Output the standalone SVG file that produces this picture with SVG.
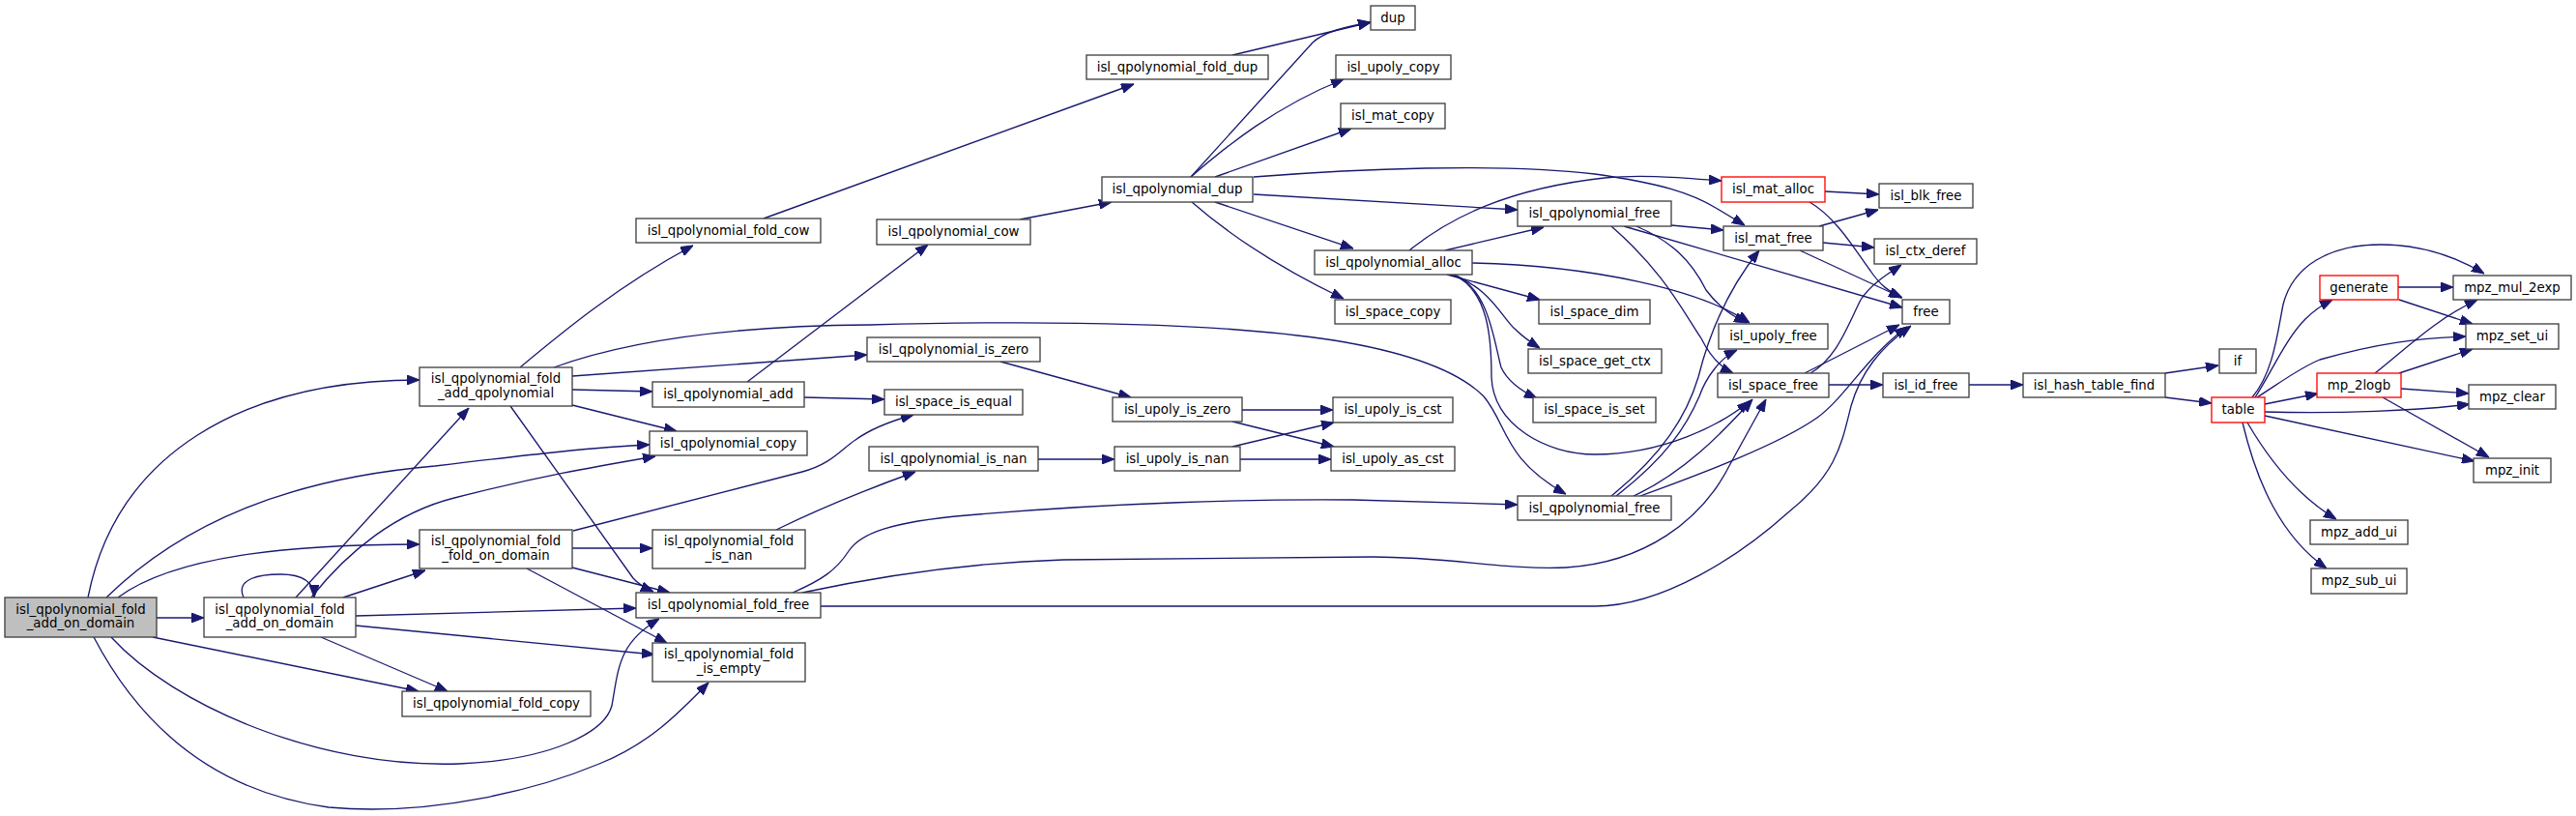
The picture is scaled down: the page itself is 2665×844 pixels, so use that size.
<svg xmlns="http://www.w3.org/2000/svg" width="2665" height="844" viewBox="0 0 2665 844">
<style>
.n rect{fill:#ffffff;stroke:#404040;stroke-width:1.33}
.n.r rect{stroke:#ff0000}
.n.m rect{fill:#bfbfbf}
.n text{font-family:"DejaVu Sans","Liberation Sans",sans-serif;font-size:13.33px;fill:#000000;text-anchor:middle}
#edges path{fill:none;stroke:#191970;stroke-width:1.33;marker-end:url(#ah)}
</style>
<defs>
<marker id="ah" viewBox="0 0 13 10" refX="13" refY="5" markerWidth="13" markerHeight="10" markerUnits="userSpaceOnUse" orient="auto">
<path d="M0,0 L13,5 L0,10 z" fill="#191970" stroke="#191970" stroke-width="1"/>
</marker>
</defs>
<rect width="2665" height="844" fill="#ffffff"/>
<g id="edges">
<path d="M162,639 L211,639"/>
<path d="M91,618 C120,470 250,393 434,393"/>
<path d="M110,618 C190,540 300,495 450,482 C550,470 620,462 672,460"/>
<path d="M122,618 C180,575 300,563 434,563"/>
<path d="M158,659 L433,715"/>
<path d="M115,659 C180,730 330,795 475,790 C570,786 625,758 633,730 C640,690 640,665 682,640"/>
<path d="M97,659 C150,760 230,820 340,835 C450,845 560,815 620,790 C670,770 700,740 733,706"/>
<path d="M252,618 C243,598 270,594 290,594 C310,594 325,600 325,618"/>
<path d="M306,618 L485,422"/>
<path d="M322,618 C360,570 410,530 470,515 C560,492 620,482 678,472"/>
<path d="M355,618 L440,590"/>
<path d="M368,637 L658,629"/>
<path d="M368,647 L677,677"/>
<path d="M332,659 L463,715"/>
<path d="M538,380 C580,345 640,295 717,254"/>
<path d="M573,380 C650,352 760,337 900,336 C1050,332 1250,332 1380,352 C1460,365 1510,385 1535,410 C1560,440 1555,475 1620,511"/>
<path d="M592,389 L897,367"/>
<path d="M592,403 L675,405"/>
<path d="M592,419 L700,446"/>
<path d="M528,420 L655,598 Q662,606 676,612"/>
<path d="M593,549 L830,488 C860,480 870,465 885,455 C900,444 920,436 945,429"/>
<path d="M592,567 L675,567"/>
<path d="M592,587 L693,613"/>
<path d="M545,588 L690,665"/>
<path d="M773,395 L960,253"/>
<path d="M832,411 L915,413"/>
<path d="M803,548 C850,525 900,505 947,488"/>
<path d="M820,613 C850,600 865,590 878,570 C890,552 920,540 1000,533 C1150,520 1300,516 1400,517 L1570,522"/>
<path d="M830,613 C900,598 1000,582 1100,579 L1420,576 C1500,576 1560,590 1620,587 C1700,582 1760,540 1790,480 L1827,413"/>
<path d="M849,627 L1650,627 C1720,627 1800,575 1850,530 C1900,490 1905,460 1915,420 C1925,385 1945,360 1977,337"/>
<path d="M790,226 L1173,87"/>
<path d="M1275,57 L1418,23"/>
<path d="M1055,227 L1150,209"/>
<path d="M1232,183 L1358,44 C1370,33 1390,28 1418,23"/>
<path d="M1232,183 C1270,150 1320,110 1390,82"/>
<path d="M1257,183 L1398,133"/>
<path d="M1297,183 C1400,175 1550,168 1650,180 C1720,190 1750,200 1775,215 L1805,233"/>
<path d="M1297,201 L1570,217"/>
<path d="M1257,209 L1400,257"/>
<path d="M1233,209 C1280,250 1340,285 1390,309"/>
<path d="M1458,259 C1500,225 1560,195 1660,184 C1700,180 1740,184 1781,187"/>
<path d="M1495,259 L1597,235"/>
<path d="M1523,272 C1650,275 1760,300 1810,334"/>
<path d="M1497,284 L1593,310"/>
<path d="M1500,284 C1540,295 1555,330 1567,340 C1575,348 1585,355 1593,360"/>
<path d="M1505,284 C1540,300 1545,350 1553,380 C1560,395 1575,405 1590,412"/>
<path d="M1503,284 C1540,300 1543,350 1543,390 C1545,440 1600,470 1650,470 C1720,470 1780,440 1810,415"/>
<path d="M1729,233 L1783,238"/>
<path d="M1693,234 C1730,250 1750,270 1765,300 C1780,320 1795,328 1807,334"/>
<path d="M1680,234 L1968,318"/>
<path d="M1667,234 C1720,280 1740,320 1760,350 C1770,370 1780,380 1793,386"/>
<path d="M1667,513 C1720,470 1745,430 1757,390 C1772,330 1795,290 1820,259"/>
<path d="M1672,513 C1725,472 1745,440 1758,410 C1765,390 1780,370 1797,362"/>
<path d="M1690,513 C1740,490 1780,450 1813,413"/>
<path d="M1697,513 C1760,490 1840,460 1880,432 C1910,410 1930,370 1973,338"/>
<path d="M1888,198 L1944,201"/>
<path d="M1872,209 C1900,225 1920,260 1935,280 C1945,295 1955,302 1967,308"/>
<path d="M1882,234 L1943,217"/>
<path d="M1886,251 L1939,256"/>
<path d="M1862,259 L1968,308"/>
<path d="M1867,386 L1965,336"/>
<path d="M1873,386 C1900,370 1910,340 1925,310 C1935,295 1950,285 1967,274"/>
<path d="M1892,398 L1948,398"/>
<path d="M2037,398 L2093,398"/>
<path d="M2240,386 L2295,378"/>
<path d="M2240,411 L2288,417"/>
<path d="M2330,411 C2352,385 2356,345 2362,315 C2372,275 2410,253 2463,253 C2510,253 2545,268 2570,283"/>
<path d="M2333,411 C2350,385 2365,350 2385,330 C2395,320 2405,314 2413,310"/>
<path d="M2335,411 C2360,395 2380,380 2400,372 C2460,355 2500,350 2551,348"/>
<path d="M2343,418 L2398,407"/>
<path d="M2343,426 C2420,428 2500,425 2555,418"/>
<path d="M2343,430 L2560,477"/>
<path d="M2325,437 C2350,480 2380,515 2417,537"/>
<path d="M2320,437 C2335,500 2360,555 2407,588"/>
<path d="M2481,297 L2538,297"/>
<path d="M2482,310 L2558,335"/>
<path d="M2457,386 C2490,360 2520,330 2563,310"/>
<path d="M2482,386 L2558,361"/>
<path d="M2484,402 L2554,407"/>
<path d="M2465,411 L2575,473"/>
<path d="M1035,374 L1170,411"/>
<path d="M1285,424 L1379,424"/>
<path d="M1275,436 L1380,462"/>
<path d="M1283,475 L1377,475"/>
<path d="M1275,462 L1380,437"/>
<path d="M1074,475 L1153,475"/>
</g>
<g id="n_main" class="n m"><rect x="5" y="618" width="157" height="41"/><text x="83.5" y="635">isl_qpolynomial_fold</text><text x="83.5" y="649">_add_on_domain</text></g>
<g id="n_add_on_domain" class="n"><rect x="211" y="618" width="157" height="41"/><text x="289.5" y="635">isl_qpolynomial_fold</text><text x="289.5" y="649">_add_on_domain</text></g>
<g id="n_add_qpolynomial" class="n"><rect x="434" y="380" width="158" height="40"/><text x="513" y="396">isl_qpolynomial_fold</text><text x="513" y="411">_add_qpolynomial</text></g>
<g id="n_qcopy" class="n"><rect x="672" y="446" width="163" height="25"/><text x="753.5" y="462.5">isl_qpolynomial_copy</text></g>
<g id="n_fold_on_domain" class="n"><rect x="434" y="548" width="158" height="40"/><text x="513" y="564">isl_qpolynomial_fold</text><text x="513" y="579">_fold_on_domain</text></g>
<g id="n_fold_free" class="n"><rect x="658" y="613" width="191" height="26"/><text x="753.5" y="630">isl_qpolynomial_fold_free</text></g>
<g id="n_fold_is_empty" class="n"><rect x="675" y="665" width="158" height="40"/><text x="754" y="681">isl_qpolynomial_fold</text><text x="754" y="696">_is_empty</text></g>
<g id="n_fold_copy" class="n"><rect x="416" y="715" width="195" height="26"/><text x="513.5" y="732">isl_qpolynomial_fold_copy</text></g>
<g id="n_fold_cow" class="n"><rect x="658" y="226" width="191" height="25"/><text x="753.5" y="242.5">isl_qpolynomial_fold_cow</text></g>
<g id="n_fold_dup" class="n"><rect x="1124" y="57" width="188" height="25"/><text x="1218" y="73.5">isl_qpolynomial_fold_dup</text></g>
<g id="n_qadd" class="n"><rect x="675" y="395" width="157" height="26"/><text x="753.5" y="412">isl_qpolynomial_add</text></g>
<g id="n_fold_is_nan" class="n"><rect x="675" y="548" width="158" height="40"/><text x="754" y="564">isl_qpolynomial_fold</text><text x="754" y="579">_is_nan</text></g>
<g id="n_qcow" class="n"><rect x="907" y="227" width="159" height="26"/><text x="986.5" y="244">isl_qpolynomial_cow</text></g>
<g id="n_qdup" class="n"><rect x="1140" y="183" width="156" height="26"/><text x="1218" y="200">isl_qpolynomial_dup</text></g>
<g id="n_qis_zero" class="n"><rect x="897" y="349" width="179" height="25"/><text x="986.5" y="365.5">isl_qpolynomial_is_zero</text></g>
<g id="n_space_is_equal" class="n"><rect x="915" y="403" width="143" height="26"/><text x="986.5" y="420">isl_space_is_equal</text></g>
<g id="n_qis_nan" class="n"><rect x="899" y="462" width="175" height="25"/><text x="986.5" y="478.5">isl_qpolynomial_is_nan</text></g>
<g id="n_upoly_is_zero" class="n"><rect x="1151" y="411" width="134" height="25"/><text x="1218" y="427.5">isl_upoly_is_zero</text></g>
<g id="n_upoly_is_nan" class="n"><rect x="1153" y="462" width="130" height="25"/><text x="1218" y="478.5">isl_upoly_is_nan</text></g>
<g id="n_dup" class="n"><rect x="1418" y="6" width="46" height="25"/><text x="1441" y="22.5">dup</text></g>
<g id="n_upoly_copy" class="n"><rect x="1382" y="57" width="119" height="25"/><text x="1441.5" y="73.5">isl_upoly_copy</text></g>
<g id="n_mat_copy" class="n"><rect x="1387" y="107" width="108" height="26"/><text x="1441" y="124">isl_mat_copy</text></g>
<g id="n_qalloc" class="n"><rect x="1360" y="259" width="163" height="25"/><text x="1441.5" y="275.5">isl_qpolynomial_alloc</text></g>
<g id="n_space_copy" class="n"><rect x="1381" y="310" width="120" height="25"/><text x="1441" y="326.5">isl_space_copy</text></g>
<g id="n_qfree1" class="n"><rect x="1570" y="208" width="159" height="26"/><text x="1649.5" y="225">isl_qpolynomial_free</text></g>
<g id="n_qfree2" class="n"><rect x="1570" y="513" width="159" height="25"/><text x="1649.5" y="529.5">isl_qpolynomial_free</text></g>
<g id="n_mat_alloc" class="n r"><rect x="1781" y="183" width="107" height="26"/><text x="1834.5" y="200">isl_mat_alloc</text></g>
<g id="n_mat_free" class="n"><rect x="1783" y="234" width="103" height="25"/><text x="1834.5" y="250.5">isl_mat_free</text></g>
<g id="n_space_dim" class="n"><rect x="1592" y="310" width="115" height="25"/><text x="1649.5" y="326.5">isl_space_dim</text></g>
<g id="n_space_get_ctx" class="n"><rect x="1581" y="361" width="138" height="25"/><text x="1650" y="377.5">isl_space_get_ctx</text></g>
<g id="n_space_is_set" class="n"><rect x="1586" y="411" width="127" height="26"/><text x="1649.5" y="428">isl_space_is_set</text></g>
<g id="n_upoly_is_cst" class="n"><rect x="1379" y="411" width="124" height="26"/><text x="1441" y="428">isl_upoly_is_cst</text></g>
<g id="n_upoly_as_cst" class="n"><rect x="1377" y="462" width="128" height="25"/><text x="1441" y="478.5">isl_upoly_as_cst</text></g>
<g id="n_upoly_free" class="n"><rect x="1778" y="335" width="113" height="26"/><text x="1834.5" y="352">isl_upoly_free</text></g>
<g id="n_space_free" class="n"><rect x="1777" y="386" width="115" height="25"/><text x="1834.5" y="402.5">isl_space_free</text></g>
<g id="n_blk_free" class="n"><rect x="1944" y="190" width="97" height="25"/><text x="1992.5" y="206.5">isl_blk_free</text></g>
<g id="n_ctx_deref" class="n"><rect x="1939" y="247" width="106" height="26"/><text x="1992" y="264">isl_ctx_deref</text></g>
<g id="n_free" class="n"><rect x="1968" y="310" width="49" height="25"/><text x="1992.5" y="326.5">free</text></g>
<g id="n_id_free" class="n"><rect x="1948" y="386" width="89" height="25"/><text x="1992.5" y="402.5">isl_id_free</text></g>
<g id="n_hash_table_find" class="n"><rect x="2093" y="386" width="147" height="25"/><text x="2166.5" y="402.5">isl_hash_table_find</text></g>
<g id="n_if" class="n"><rect x="2296" y="361" width="38" height="25"/><text x="2315" y="377.5">if</text></g>
<g id="n_table" class="n r"><rect x="2288" y="411" width="55" height="26"/><text x="2315.5" y="428">table</text></g>
<g id="n_generate" class="n r"><rect x="2400" y="285" width="81" height="25"/><text x="2440.5" y="301.5">generate</text></g>
<g id="n_mp_2logb" class="n r"><rect x="2397" y="386" width="87" height="25"/><text x="2440.5" y="402.5">mp_2logb</text></g>
<g id="n_mpz_mul_2exp" class="n"><rect x="2538" y="285" width="122" height="25"/><text x="2599" y="301.5">mpz_mul_2exp</text></g>
<g id="n_mpz_set_ui" class="n"><rect x="2551" y="335" width="96" height="26"/><text x="2599" y="352">mpz_set_ui</text></g>
<g id="n_mpz_clear" class="n"><rect x="2554" y="398" width="90" height="25"/><text x="2599" y="414.5">mpz_clear</text></g>
<g id="n_mpz_init" class="n"><rect x="2559" y="474" width="80" height="25"/><text x="2599" y="490.5">mpz_init</text></g>
<g id="n_mpz_add_ui" class="n"><rect x="2390" y="538" width="101" height="25"/><text x="2440.5" y="554.5">mpz_add_ui</text></g>
<g id="n_mpz_sub_ui" class="n"><rect x="2391" y="588" width="99" height="26"/><text x="2440.5" y="605">mpz_sub_ui</text></g>
</svg>
